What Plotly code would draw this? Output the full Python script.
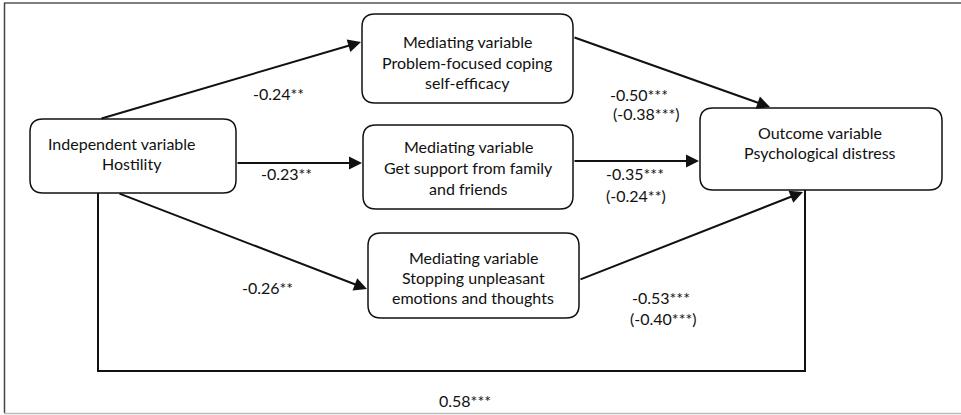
import plotly.graph_objects as go

# ---- data ----
node_names = ["independent", "mediator1", "mediator2", "mediator3", "outcome"]
node_lines = [
    ["Independent variable", "Hostility"],
    ["Mediating variable", "Problem-focused coping", "self-efficacy"],
    ["Mediating variable", "Get support from family", "and friends"],
    ["Mediating variable", "Stopping unpleasant", "emotions and thoughts"],
    ["Outcome variable", "Psychological distress"],
]
path_a = ["-0.24**", "-0.23**", "-0.26**"]          # X -> M
path_b = ["-0.50***", "-0.35***", "-0.53***"]       # M -> Y
path_b_adj = ["(-0.38***)", "(-0.24**)", "(-0.40***)"]
direct_effect = "0.58***"

# ---- layout geometry (pixels) ----
W, H = 961, 415
boxes = {
    "independent": (30, 236, 119, 193),
    "mediator1": (362, 573, 14, 103),
    "mediator2": (363, 573, 125, 209),
    "mediator3": (368, 579, 233, 318),
    "outcome": (700, 942, 108, 190),
}
text_pos = {
    "independent": [(122, 143), (132, 163)],
    "mediator1": [(467, 41), (467, 62), (467, 82)],
    "mediator2": [(468, 146), (468, 167), (468, 188)],
    "mediator3": [(473, 257), (473, 277), (473, 297)],
    "outcome": [(820, 132), (820, 152)],
}
arrows_a = [((100, 119), (361, 42)), ((236, 163), (362, 163)), ((118, 193), (367, 289))]
arrows_b = [((573, 37), (770, 107)), ((573, 161), (699, 161)), ((579, 280), (803, 192))]
label_a_pos = [(278, 93), (286, 173), (267, 287)]
label_b_pos = [(639, 94), (635, 173), (661, 297)]
label_badj_pos = [(646, 113), (636, 195), (663, 318)]
direct_pts = [(98, 193), (98, 371), (805, 371), (805, 190)]
direct_label_pos = (465, 400)

FONT = dict(family="Lato, Open Sans, sans-serif", size=16, color="#111111")


def rrect(x0, x1, y0, y1, r=13):
    return (f"M {x0+r},{y0} L {x1-r},{y0} Q {x1},{y0} {x1},{y0+r} "
            f"L {x1},{y1-r} Q {x1},{y1} {x1-r},{y1} L {x0+r},{y1} "
            f"Q {x0},{y1} {x0},{y1-r} L {x0},{y0+r} Q {x0},{y0} {x0+r},{y0} Z")


fig = go.Figure()
shapes = []
annotations = []

# outer frame
shapes.append(dict(type="line", x0=4, x1=W, y0=3, y1=3, line=dict(color="#555555", width=1.5)))
shapes.append(dict(type="line", x0=4.5, x1=4.5, y0=3, y1=413, line=dict(color="#444444", width=1.5)))
shapes.append(dict(type="line", x0=4, x1=W, y0=413.5, y1=413.5, line=dict(color="#bbbbbb", width=1.5)))

# boxes
for name in node_names:
    x0, x1, y0, y1 = boxes[name]
    shapes.append(dict(type="path", path=rrect(x0, x1, y0, y1),
                       line=dict(color="#111111", width=1.5), fillcolor="white"))
    for line, (tx, ty) in zip(node_lines[node_names.index(name)], text_pos[name]):
        annotations.append(dict(x=tx, y=ty, text=line, showarrow=False, font=FONT,
                                xanchor="center", yanchor="middle"))

# direct path polyline
xs = [p[0] for p in direct_pts]
ys = [p[1] for p in direct_pts]
fig.add_trace(go.Scatter(x=xs, y=ys, mode="lines", line=dict(color="#111111", width=2),
                         hoverinfo="skip", showlegend=False))


def arrow(tail, head):
    return dict(x=head[0], y=head[1], ax=tail[0], ay=tail[1], xref="x", yref="y",
                axref="x", ayref="y", showarrow=True, arrowhead=2, arrowsize=1.3,
                arrowwidth=2, arrowcolor="#111111", standoff=0, startstandoff=0, text="")


for (t, h) in arrows_a + arrows_b:
    annotations.append(arrow(t, h))

for lab, (tx, ty) in zip(path_a, label_a_pos):
    annotations.append(dict(x=tx, y=ty, text=lab, showarrow=False, font=FONT))
for lab, (tx, ty) in zip(path_b, label_b_pos):
    annotations.append(dict(x=tx, y=ty, text=lab, showarrow=False, font=FONT))
for lab, (tx, ty) in zip(path_b_adj, label_badj_pos):
    annotations.append(dict(x=tx, y=ty, text=lab, showarrow=False, font=FONT))
annotations.append(dict(x=direct_label_pos[0], y=direct_label_pos[1], text=direct_effect,
                        showarrow=False, font=FONT))

fig.update_layout(
    width=W, height=H, margin=dict(l=0, r=0, t=0, b=0),
    paper_bgcolor="white", plot_bgcolor="white",
    xaxis=dict(range=[0, W], visible=False, fixedrange=True),
    yaxis=dict(range=[H, 0], visible=False, fixedrange=True),
    shapes=shapes, annotations=annotations, showlegend=False,
)

fig.write_html("out.html", config={"displayModeBar": False},
               post_script="document.body.style.margin='0px';document.body.style.overflow='hidden';")
